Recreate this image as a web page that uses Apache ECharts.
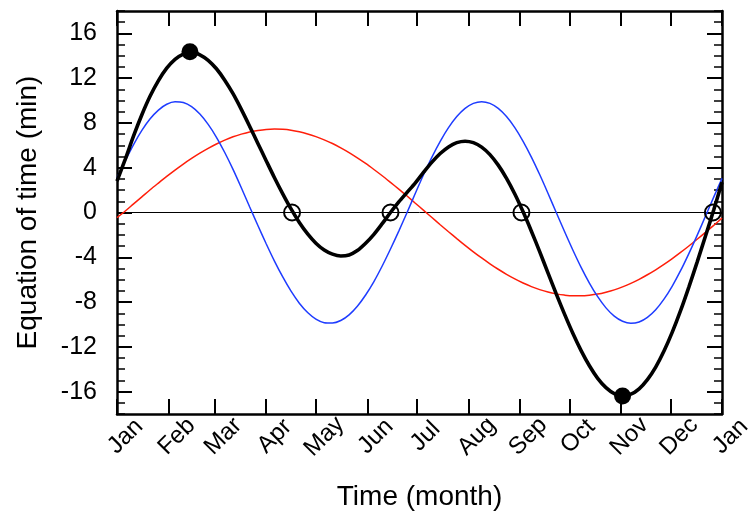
<!DOCTYPE html>
<html>
<head>
<meta charset="utf-8">
<script src="https://cdn.jsdelivr.net/npm/echarts@6/dist/echarts.min.js"></script>
<style>
  html, body { margin: 0; padding: 0; background: #fff; }
  #main { width: 755px; height: 518px; }
</style>
</head>
<body>
<div id="main"></div>
<script>
// day of year (0 = 1 Jan) at which the curves were read
var days = [0, 5, 10, 15, 20, 25, 30, 35, 40, 45, 50, 55, 60, 65, 70, 75, 80, 85, 90, 95,
            100, 105, 110, 115, 120, 125, 130, 135, 140, 145, 150, 155, 160, 165, 170, 175, 180, 185, 190, 195,
            200, 205, 210, 215, 220, 225, 230, 235, 240, 245, 250, 255, 260, 265, 270, 275, 280, 285, 290, 295,
            300, 305, 310, 315, 320, 325, 330, 335, 340, 345, 350, 355, 360, 365];
// eccentricity part (red)
var redVals = [-0.45, 0.13, 0.77, 1.40, 2.03, 2.63, 3.22, 3.79, 4.33, 4.83, 5.30, 5.73, 6.12, 6.46, 6.76, 7.00, 7.20, 7.33, 7.42, 7.45,
               7.43, 7.35, 7.21, 7.02, 6.78, 6.49, 6.16, 5.77, 5.35, 4.88, 4.38, 3.84, 3.28, 2.69, 2.09, 1.47, 0.83, 0.19, -0.45, -1.09,
               -1.72, -2.33, -2.93, -3.51, -4.06, -4.58, -5.07, -5.52, -5.93, -6.30, -6.62, -6.89, -7.11, -7.27, -7.38, -7.44, -7.44, -7.39, -7.29, -7.12,
               -6.91, -6.64, -6.33, -5.97, -5.56, -5.12, -4.64, -4.12, -3.57, -2.99, -2.39, -1.78, -1.15, -0.50];
// obliquity part (blue)
var blueVals = [3.10, 4.63, 6.07, 7.33, 8.37, 9.15, 9.67, 9.89, 9.82, 9.45, 8.79, 7.87, 6.72, 5.36, 3.85, 2.21, 0.51, -1.16, -2.79, -4.34,
                -5.76, -7.03, -8.10, -8.93, -9.52, -9.84, -9.88, -9.65, -9.14, -8.37, -7.37, -6.17, -4.78, -3.26, -1.66, 0.00, 1.72, 3.39, 4.95, 6.36,
                7.58, 8.57, 9.30, 9.75, 9.90, 9.75, 9.30, 8.57, 7.58, 6.36, 4.95, 3.39, 1.72, 0.00, -1.70, -3.35, -4.90, -6.30, -7.52, -8.52,
                -9.26, -9.72, -9.90, -9.78, -9.37, -8.69, -7.74, -6.57, -5.20, -3.67, -2.04, -0.34, 1.37, 3.05];
// equation of time (black)
var eotVals = [2.80, 4.76, 6.84, 8.73, 10.40, 11.78, 12.89, 13.68, 14.15, 14.35, 14.09, 13.60, 12.84, 11.82, 10.61, 9.21, 7.71, 6.17, 4.63, 3.11,
               1.67, 0.32, -0.89, -1.91, -2.74, -3.35, -3.72, -3.88, -3.79, -3.40, -2.75, -1.95, -1.00, 0.00, 0.95, 1.80, 2.65, 3.60, 4.50, 5.27,
               5.86, 6.24, 6.37, 6.24, 5.84, 5.17, 4.23, 3.05, 1.65, 0.06, -1.67, -3.50, -5.39, -7.27, -9.08, -10.79, -12.34, -13.69, -14.81, -15.64,
               -16.17, -16.36, -16.23, -15.75, -14.93, -13.81, -12.38, -10.69, -8.77, -6.66, -4.43, -2.12, 0.22, 2.70];

// extremes (filled) and zero crossings (open)
var extremaDays = [44, 305];
var extremaVals = [14.35, -16.4];
var zeroDays = [105.6, 165, 244, 359.5];

// month starts and tick labels
var monthDays = [0, 31, 59, 90, 120, 151, 181, 212, 243, 273, 304, 334, 365];
var monthNames = ['Jan', 'Feb', 'Mar', 'Apr', 'May', 'Jun', 'Jul', 'Aug', 'Sep', 'Oct', 'Nov', 'Dec', 'Jan'];
var yMajor = [-16, -12, -8, -4, 0, 4, 8, 12, 16];

function pairs(xs, ys) {
  var out = [];
  for (var i = 0; i < xs.length; i++) out.push([xs[i], ys[i]]);
  return out;
}

var FONT = 'Liberation Sans';
var myChart = echarts.init(document.getElementById('main'));

var lineAxis = { show: true, onZero: false, lineStyle: { color: '#000', width: 2.5 } };
var noLine = { show: false, onZero: false };

var option = {
  animation: false,
  backgroundColor: '#fff',
  grid: { left: 117, right: 33, top: 11, bottom: 104, containLabel: false },
  xAxis: [
    {
      type: 'value', position: 'bottom', min: 0, max: 365,
      axisLine: lineAxis,
      axisTick: { show: true, inside: true, length: 15, customValues: monthDays, lineStyle: { color: '#000', width: 2 } },
      axisLabel: {
        customValues: monthDays, rotate: 45, fontSize: 24, fontFamily: FONT, color: '#000',
        align: 'center', verticalAlign: 'top', margin: 14,
        formatter: function (v) { var i = monthDays.indexOf(v); return i >= 0 ? monthNames[i] : ''; }
      },
      splitLine: { show: false },
      name: 'Time (month)', nameLocation: 'middle', nameGap: 69,
      nameTextStyle: { fontSize: 28, fontFamily: FONT, color: '#000' }
    },
    {
      type: 'value', position: 'top', min: 0, max: 365,
      axisLine: lineAxis,
      axisTick: { show: true, inside: true, length: 15, customValues: monthDays, lineStyle: { color: '#000', width: 2 } },
      axisLabel: { show: false },
      splitLine: { show: false }
    }
  ],
  yAxis: [
    {
      type: 'value', position: 'left', min: -18, max: 18, interval: 1,
      axisLine: lineAxis,
      axisTick: { show: true, inside: true, length: 8, lineStyle: { color: '#000', width: 1.5 } },
      axisLabel: { customValues: yMajor, fontSize: 25, fontFamily: FONT, color: '#000', margin: 20 },
      splitLine: { show: false },
      name: 'Equation of time (min)', nameLocation: 'middle', nameGap: 75, nameRotate: 90,
      nameTextStyle: { fontSize: 28, fontFamily: FONT, color: '#000' }
    },
    {
      type: 'value', position: 'left', min: -18, max: 18,
      axisLine: noLine,
      axisTick: { show: true, inside: true, length: 15, customValues: yMajor, lineStyle: { color: '#000', width: 2 } },
      axisLabel: { show: false },
      splitLine: { show: false }
    },
    {
      type: 'value', position: 'right', min: -18, max: 18, interval: 1,
      axisLine: lineAxis,
      axisTick: { show: true, inside: true, length: 8, lineStyle: { color: '#000', width: 1.5 } },
      axisLabel: { show: false },
      splitLine: { show: false }
    },
    {
      type: 'value', position: 'right', min: -18, max: 18,
      axisLine: noLine,
      axisTick: { show: true, inside: true, length: 15, customValues: yMajor, lineStyle: { color: '#000', width: 2 } },
      axisLabel: { show: false },
      splitLine: { show: false }
    }
  ],
  series: [
    {
      name: 'zero', type: 'line', data: [[0, 0], [365, 0]],
      showSymbol: false, silent: true, z: 1,
      lineStyle: { color: '#000', width: 1 }
    },
    {
      name: 'eccentricity', type: 'line', data: pairs(days, redVals),
      smooth: 0.3, showSymbol: false, z: 2,
      lineStyle: { color: '#ff1e0a', width: 1.5 }
    },
    {
      name: 'obliquity', type: 'line', data: pairs(days, blueVals),
      smooth: 0.3, showSymbol: false, z: 3,
      lineStyle: { color: '#1e3cff', width: 1.5 }
    },
    {
      name: 'equation of time', type: 'line', data: pairs(days, eotVals),
      smooth: 0.3, showSymbol: false, z: 4,
      lineStyle: { color: '#000', width: 3.6 }
    },
    {
      name: 'extrema', type: 'scatter', data: pairs(extremaDays, extremaVals),
      symbol: 'circle', symbolSize: 17, z: 5,
      itemStyle: { color: '#000', opacity: 1 }
    },
    {
      name: 'zeros', type: 'scatter', data: pairs(zeroDays, [0, 0, 0, 0]),
      symbol: 'circle', symbolSize: 16, z: 5,
      itemStyle: { color: 'rgba(0,0,0,0)', borderColor: '#000', borderWidth: 2, opacity: 1 }
    }
  ]
};

myChart.setOption(option);
</script>
</body>
</html>
